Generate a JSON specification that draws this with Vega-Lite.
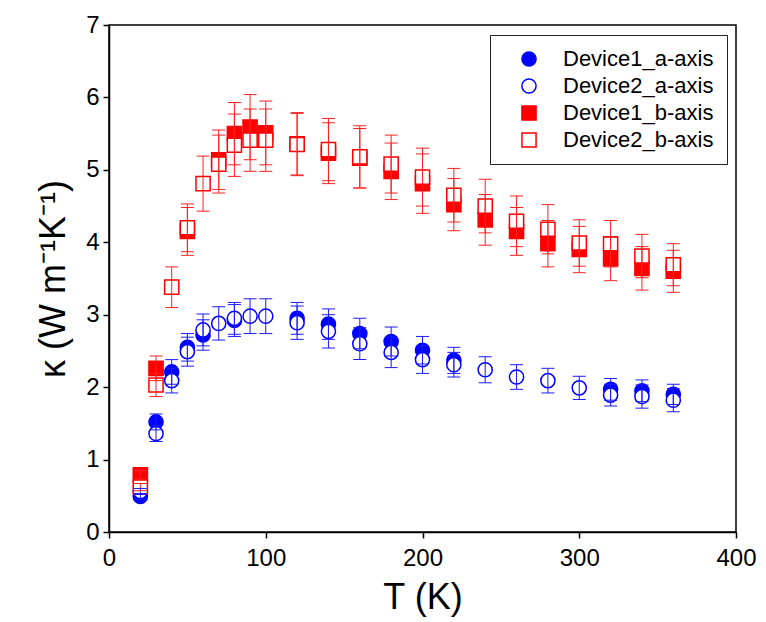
{
  "$schema": "https://vega.github.io/schema/vega-lite/v6.json",
  "width": 627,
  "height": 507,
  "autosize": {"type": "none"},
  "padding": {"left": 109, "top": 25, "right": 30, "bottom": 90},
  "background": "white",
  "config": {
    "view": {"stroke": "black", "strokeWidth": 1.5},
    "font": "Liberation Sans",
    "axis": {"labelFont": "Liberation Sans", "titleFont": "Liberation Sans", "labelColor": "black", "titleColor": "black", "grid": false, "domain": true, "domainColor": "black", "domainWidth": 1.5, "ticks": true, "tickColor": "black", "tickWidth": 1.5, "tickSize": 6, "titleFontWeight": "normal"}
  },
  "data": {"values": [
    {"s": "Device1_a-axis", "T": 20, "k": 0.49, "lo": 0.45, "hi": 0.53},
    {"s": "Device1_a-axis", "T": 30, "k": 1.52, "lo": 1.41, "hi": 1.63},
    {"s": "Device1_a-axis", "T": 40, "k": 2.21, "lo": 2.04, "hi": 2.38},
    {"s": "Device1_a-axis", "T": 50, "k": 2.55, "lo": 2.36, "hi": 2.74},
    {"s": "Device1_a-axis", "T": 60, "k": 2.72, "lo": 2.51, "hi": 2.93},
    {"s": "Device1_a-axis", "T": 80, "k": 2.92, "lo": 2.70, "hi": 3.14},
    {"s": "Device1_a-axis", "T": 120, "k": 2.95, "lo": 2.73, "hi": 3.17},
    {"s": "Device1_a-axis", "T": 140, "k": 2.87, "lo": 2.66, "hi": 3.08},
    {"s": "Device1_a-axis", "T": 160, "k": 2.74, "lo": 2.53, "hi": 2.95},
    {"s": "Device1_a-axis", "T": 180, "k": 2.63, "lo": 2.43, "hi": 2.83},
    {"s": "Device1_a-axis", "T": 200, "k": 2.51, "lo": 2.32, "hi": 2.70},
    {"s": "Device1_a-axis", "T": 220, "k": 2.37, "lo": 2.19, "hi": 2.55},
    {"s": "Device1_a-axis", "T": 320, "k": 1.97, "lo": 1.82, "hi": 2.12},
    {"s": "Device1_a-axis", "T": 340, "k": 1.95, "lo": 1.80, "hi": 2.10},
    {"s": "Device1_a-axis", "T": 360, "k": 1.90, "lo": 1.76, "hi": 2.04},
    {"s": "Device2_a-axis", "T": 20, "k": 0.56, "lo": 0.52, "hi": 0.60},
    {"s": "Device2_a-axis", "T": 30, "k": 1.36, "lo": 1.25, "hi": 1.47},
    {"s": "Device2_a-axis", "T": 40, "k": 2.09, "lo": 1.92, "hi": 2.26},
    {"s": "Device2_a-axis", "T": 50, "k": 2.49, "lo": 2.29, "hi": 2.69},
    {"s": "Device2_a-axis", "T": 60, "k": 2.79, "lo": 2.57, "hi": 3.01},
    {"s": "Device2_a-axis", "T": 70, "k": 2.88, "lo": 2.65, "hi": 3.11},
    {"s": "Device2_a-axis", "T": 80, "k": 2.95, "lo": 2.73, "hi": 3.17},
    {"s": "Device2_a-axis", "T": 90, "k": 2.98, "lo": 2.74, "hi": 3.22},
    {"s": "Device2_a-axis", "T": 100, "k": 2.98, "lo": 2.74, "hi": 3.22},
    {"s": "Device2_a-axis", "T": 120, "k": 2.89, "lo": 2.66, "hi": 3.12},
    {"s": "Device2_a-axis", "T": 140, "k": 2.77, "lo": 2.54, "hi": 3.00},
    {"s": "Device2_a-axis", "T": 160, "k": 2.60, "lo": 2.38, "hi": 2.82},
    {"s": "Device2_a-axis", "T": 180, "k": 2.48, "lo": 2.27, "hi": 2.69},
    {"s": "Device2_a-axis", "T": 200, "k": 2.38, "lo": 2.19, "hi": 2.57},
    {"s": "Device2_a-axis", "T": 220, "k": 2.31, "lo": 2.14, "hi": 2.48},
    {"s": "Device2_a-axis", "T": 240, "k": 2.24, "lo": 2.06, "hi": 2.42},
    {"s": "Device2_a-axis", "T": 260, "k": 2.14, "lo": 1.97, "hi": 2.31},
    {"s": "Device2_a-axis", "T": 280, "k": 2.09, "lo": 1.92, "hi": 2.26},
    {"s": "Device2_a-axis", "T": 300, "k": 1.99, "lo": 1.83, "hi": 2.15},
    {"s": "Device2_a-axis", "T": 320, "k": 1.89, "lo": 1.74, "hi": 2.04},
    {"s": "Device2_a-axis", "T": 340, "k": 1.87, "lo": 1.71, "hi": 2.03},
    {"s": "Device2_a-axis", "T": 360, "k": 1.82, "lo": 1.66, "hi": 1.98},
    {"s": "Device1_b-axis", "T": 20, "k": 0.79, "lo": 0.73, "hi": 0.85},
    {"s": "Device1_b-axis", "T": 30, "k": 2.26, "lo": 2.09, "hi": 2.43},
    {"s": "Device1_b-axis", "T": 50, "k": 4.15, "lo": 3.82, "hi": 4.48},
    {"s": "Device1_b-axis", "T": 70, "k": 5.14, "lo": 4.73, "hi": 5.55},
    {"s": "Device1_b-axis", "T": 80, "k": 5.50, "lo": 5.07, "hi": 5.93},
    {"s": "Device1_b-axis", "T": 90, "k": 5.59, "lo": 5.14, "hi": 6.04},
    {"s": "Device1_b-axis", "T": 100, "k": 5.51, "lo": 5.07, "hi": 5.95},
    {"s": "Device1_b-axis", "T": 120, "k": 5.36, "lo": 4.93, "hi": 5.79},
    {"s": "Device1_b-axis", "T": 140, "k": 5.23, "lo": 4.81, "hi": 5.65},
    {"s": "Device1_b-axis", "T": 160, "k": 5.16, "lo": 4.75, "hi": 5.57},
    {"s": "Device1_b-axis", "T": 180, "k": 4.98, "lo": 4.59, "hi": 5.37},
    {"s": "Device1_b-axis", "T": 200, "k": 4.81, "lo": 4.40, "hi": 5.22},
    {"s": "Device1_b-axis", "T": 220, "k": 4.52, "lo": 4.16, "hi": 4.88},
    {"s": "Device1_b-axis", "T": 240, "k": 4.31, "lo": 3.96, "hi": 4.66},
    {"s": "Device1_b-axis", "T": 260, "k": 4.15, "lo": 3.82, "hi": 4.48},
    {"s": "Device1_b-axis", "T": 280, "k": 3.98, "lo": 3.66, "hi": 4.30},
    {"s": "Device1_b-axis", "T": 300, "k": 3.90, "lo": 3.58, "hi": 4.22},
    {"s": "Device1_b-axis", "T": 320, "k": 3.77, "lo": 3.47, "hi": 4.07},
    {"s": "Device1_b-axis", "T": 340, "k": 3.64, "lo": 3.34, "hi": 3.94},
    {"s": "Device1_b-axis", "T": 360, "k": 3.60, "lo": 3.31, "hi": 3.89},
    {"s": "Device2_b-axis", "T": 20, "k": 0.62, "lo": 0.57, "hi": 0.67},
    {"s": "Device2_b-axis", "T": 30, "k": 2.03, "lo": 1.87, "hi": 2.19},
    {"s": "Device2_b-axis", "T": 40, "k": 3.38, "lo": 3.10, "hi": 3.66},
    {"s": "Device2_b-axis", "T": 50, "k": 4.20, "lo": 3.87, "hi": 4.53},
    {"s": "Device2_b-axis", "T": 60, "k": 4.81, "lo": 4.43, "hi": 5.19},
    {"s": "Device2_b-axis", "T": 70, "k": 5.08, "lo": 4.68, "hi": 5.48},
    {"s": "Device2_b-axis", "T": 80, "k": 5.34, "lo": 4.91, "hi": 5.77},
    {"s": "Device2_b-axis", "T": 90, "k": 5.41, "lo": 4.98, "hi": 5.84},
    {"s": "Device2_b-axis", "T": 100, "k": 5.41, "lo": 4.98, "hi": 5.84},
    {"s": "Device2_b-axis", "T": 120, "k": 5.35, "lo": 4.92, "hi": 5.78},
    {"s": "Device2_b-axis", "T": 140, "k": 5.28, "lo": 4.85, "hi": 5.71},
    {"s": "Device2_b-axis", "T": 160, "k": 5.18, "lo": 4.75, "hi": 5.61},
    {"s": "Device2_b-axis", "T": 180, "k": 5.08, "lo": 4.68, "hi": 5.48},
    {"s": "Device2_b-axis", "T": 200, "k": 4.90, "lo": 4.50, "hi": 5.30},
    {"s": "Device2_b-axis", "T": 220, "k": 4.65, "lo": 4.28, "hi": 5.02},
    {"s": "Device2_b-axis", "T": 240, "k": 4.50, "lo": 4.13, "hi": 4.87},
    {"s": "Device2_b-axis", "T": 260, "k": 4.29, "lo": 3.94, "hi": 4.64},
    {"s": "Device2_b-axis", "T": 280, "k": 4.18, "lo": 3.84, "hi": 4.52},
    {"s": "Device2_b-axis", "T": 300, "k": 3.99, "lo": 3.67, "hi": 4.31},
    {"s": "Device2_b-axis", "T": 320, "k": 3.98, "lo": 3.66, "hi": 4.30},
    {"s": "Device2_b-axis", "T": 340, "k": 3.81, "lo": 3.51, "hi": 4.11},
    {"s": "Device2_b-axis", "T": 360, "k": 3.69, "lo": 3.40, "hi": 3.98}
  ]},
  "encoding": {
    "x": {
      "field": "T", "type": "quantitative",
      "scale": {"domain": [0, 400], "nice": false, "zero": false},
      "axis": {
        "values": [0, 100, 200, 300, 400],
        "labelFontSize": 24, "labelPadding": 8, "labelFlush": false,
        "title": "T (K)", "titleFontSize": 36, "titlePadding": 10
      }
    }
  },
  "layer": [
    {
      "mark": {"type": "point", "size": 200, "strokeWidth": 1.5, "opacity": 1},
      "encoding": {
        "y": {
          "field": "k", "type": "quantitative",
          "scale": {"domain": [0, 7], "nice": false, "zero": false},
          "axis": {
            "values": [0, 1, 2, 3, 4, 5, 6, 7],
            "format": "d",
            "labelFontSize": 24, "labelPadding": 4, "labelFlush": false,
            "titleFontSize": 36, "titlePadding": 13
          },
          "title": "κ (W m⁻¹K⁻¹)"
        },
        "shape": {
          "field": "s", "type": "nominal",
          "scale": {"domain": ["Device1_a-axis", "Device2_a-axis", "Device1_b-axis", "Device2_b-axis"], "range": ["circle", "circle", "square", "square"]},
          "legend": {
            "orient": "none", "legendX": 381, "legendY": 10, "title": null,
            "strokeColor": "#222", "fillColor": "white", "padding": 13,
            "symbolSize": 200, "symbolStrokeWidth": 1.5, "labelFontSize": 22,
            "labelFont": "Liberation Sans", "labelColor": "black",
            "rowPadding": 5, "symbolOffset": 15, "labelOffset": 23
          }
        },
        "stroke": {
          "field": "s", "type": "nominal",
          "scale": {"domain": ["Device1_a-axis", "Device2_a-axis", "Device1_b-axis", "Device2_b-axis"], "range": ["#0000ff", "#0000ff", "#ff0000", "#ff0000"]}
        },
        "fill": {
          "field": "s", "type": "nominal",
          "scale": {"domain": ["Device1_a-axis", "Device2_a-axis", "Device1_b-axis", "Device2_b-axis"], "range": ["#0000ff", "#ffffff", "#ff0000", "#ffffff"]}
        }
      }
    },
    {
      "mark": {"type": "rule", "strokeWidth": 1},
      "encoding": {
        "y": {"field": "lo", "type": "quantitative", "title": "κ (W m⁻¹K⁻¹)"},
        "y2": {"field": "hi"},
        "color": {"field": "s", "type": "nominal", "legend": null,
          "scale": {"domain": ["Device1_a-axis", "Device2_a-axis", "Device1_b-axis", "Device2_b-axis"], "range": ["#1a1aff", "#1a1aff", "#ff2020", "#ff2020"]}}
      }
    },
    {
      "mark": {"type": "tick", "orient": "horizontal", "size": 13, "thickness": 1, "opacity": 1},
      "encoding": {
        "y": {"field": "lo", "type": "quantitative", "title": "κ (W m⁻¹K⁻¹)"},
        "color": {"field": "s", "type": "nominal", "legend": null}
      }
    },
    {
      "mark": {"type": "tick", "orient": "horizontal", "size": 13, "thickness": 1, "opacity": 1},
      "encoding": {
        "y": {"field": "hi", "type": "quantitative", "title": "κ (W m⁻¹K⁻¹)"},
        "color": {"field": "s", "type": "nominal", "legend": null}
      }
    }
  ]
}
